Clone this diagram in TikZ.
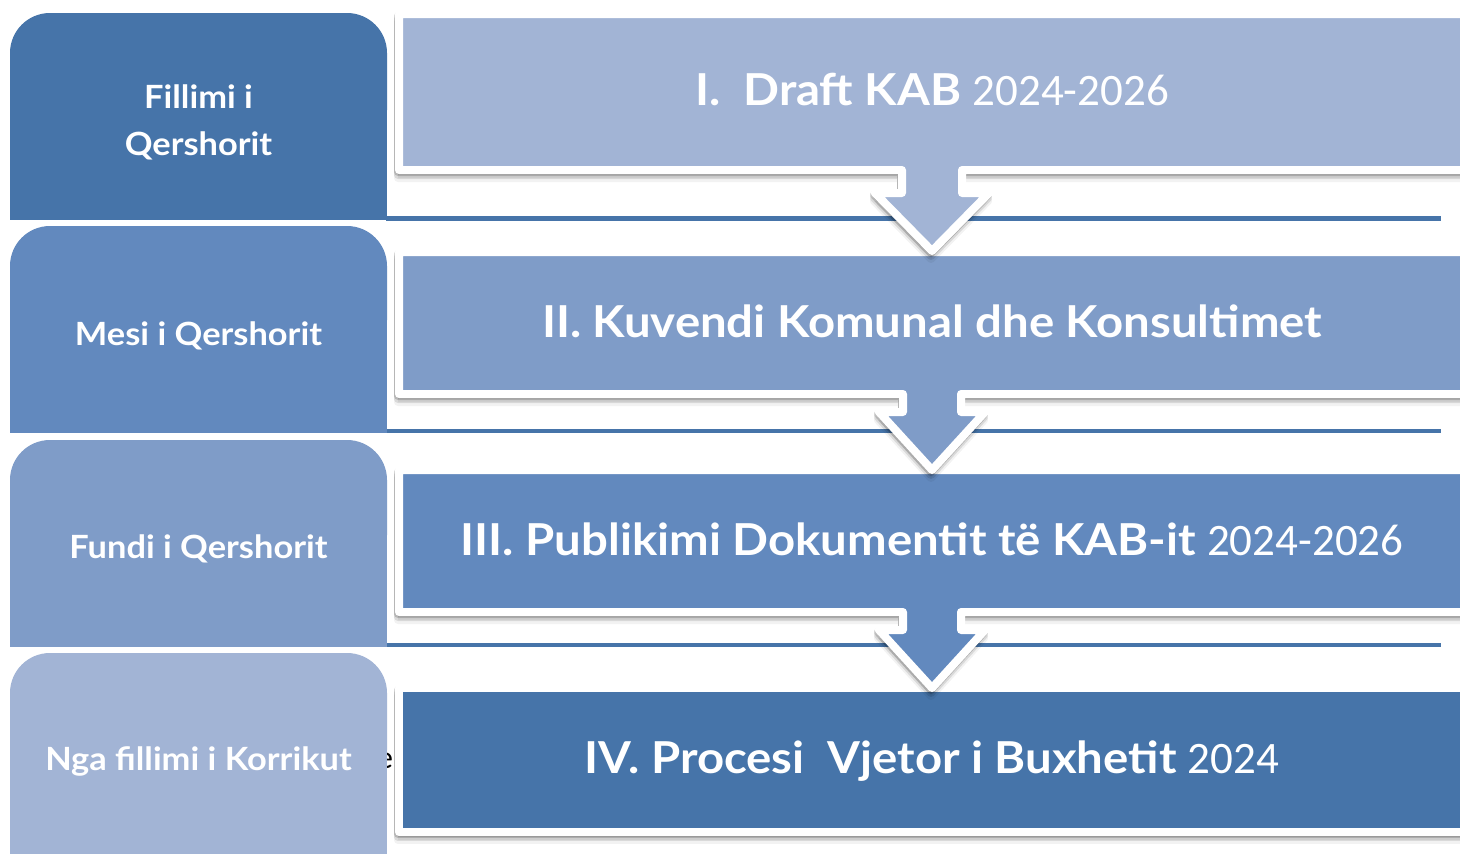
\documentclass[tikz,border=0pt]{standalone}
\usepackage{fontspec}
\setmainfont{Lato}[FakeStretch=1.075]
\newfontfamily\yearfont{Carlito}
\definecolor{cA}{HTML}{4674A9}
\definecolor{cB}{HTML}{6289BE}
\definecolor{cC}{HTML}{7F9CC8}
\definecolor{cD}{HTML}{A2B4D5}
\begin{document}
\begin{tikzpicture}[x=1pt,y=-1pt,
  ltext/.style={text=white,font=\bfseries\fontsize{32}{32}\selectfont,inner sep=0pt,anchor=base},
  rtext/.style={text=white,font=\bfseries\fontsize{44}{44}\selectfont,inner sep=0pt,anchor=base},
  frame/.style={draw=white,line width=8pt,line join=round},
  shadowA/.style={fill=black,draw=black,line width=8pt,line join=round,opacity=0.10},
  sepline/.style={draw=cA,line width=4.5pt}
]
\useasboundingbox (0,0) rectangle (1460,854);
\clip (0,0) rectangle (1460,854);
\fill[white] (0,0) rectangle (1460,854);

% separator lines
\draw[sepline] (386,218.5) -- (1441,218.5);
\draw[sepline] (386,431) -- (1441,431);
\draw[sepline] (386,645) -- (1441,645);

% stray letter behind the last left box
\node[anchor=base west,inner sep=0pt,text=black,font=\yearfont\fontsize{32}{32}\selectfont] (stray) at (377,768) {e};

% left boxes
\fill[cA,rounded corners=40pt] (10,150) -- (10,13) -- (387,13) -- (387,150) -- cycle;
\fill[cA] (10,100) rectangle (387,220);
\fill[cB,rounded corners=40pt] (10,360) -- (10,226) -- (387,226) -- (387,360) -- cycle;
\fill[cB] (10,320) rectangle (387,433);
\fill[cC,rounded corners=40pt] (10,575) -- (10,440) -- (387,440) -- (387,575) -- cycle;
\fill[cC] (10,530) rectangle (387,647);
\fill[cD,rounded corners=40pt] (10,790) -- (10,653) -- (387,653) -- (387,790) -- cycle;
\fill[cD] (10,740) rectangle (387,860);

\node[ltext] (l1a) at (198.5,108) {Fillimi i};
\node[ltext] (l1b) at (198.5,155) {Qershorit};
\node[ltext] (l2) at (198.5,345) {Mesi i Qershorit};
\node[ltext] (l3) at (198.5,558) {Fundi i Qershorit};
\node[ltext] (l4) at (198.5,770) {Nga fillimi i Korrikut};

% right box IV
\foreach \dy/\op in {2/0.16,5/0.10,8/0.05}{
  \path[shadowA,opacity=\op,yshift=-\dy pt,xshift=-1pt] (399,688) -- (1480,688) -- (1480,832) -- (399,832) -- cycle;}
\path[frame,fill=cA] (399,688) -- (1480,688) -- (1480,832) -- (399,832) -- cycle;

% right box III with arrow
\foreach \dy/\op in {2/0.16,5/0.10,8/0.05}{
  \path[shadowA,opacity=\op,yshift=-\dy pt,xshift=-1pt] (399,470) -- (1480,470) -- (1480,612) -- (961,612) -- (961,630) -- (985,630) -- (932,688) -- (879,630) -- (903,630) -- (903,612) -- (399,612) -- cycle;}
\path[frame,fill=cB] (399,470) -- (1480,470) -- (1480,612) -- (961,612) -- (961,630) -- (985,630) -- (932,688) -- (879,630) -- (903,630) -- (903,612) -- (399,612) -- cycle;

% right box II with arrow
\foreach \dy/\op in {2/0.16,5/0.10,8/0.05}{
  \path[shadowA,opacity=\op,yshift=-\dy pt,xshift=-1pt] (399,252) -- (1480,252) -- (1480,394) -- (961,394) -- (961,412) -- (985,412) -- (932,470) -- (879,412) -- (903,412) -- (903,394) -- (399,394) -- cycle;}
\path[frame,fill=cC] (399,252) -- (1480,252) -- (1480,394) -- (961,394) -- (961,412) -- (985,412) -- (932,470) -- (879,412) -- (903,412) -- (903,394) -- (399,394) -- cycle;

% right box I with arrow
\foreach \dy/\op in {2/0.16,5/0.10,8/0.05}{
  \path[shadowA,opacity=\op,yshift=-\dy pt,xshift=-1pt] (399,14) -- (1480,14) -- (1480,170) -- (962,170) -- (962,193) -- (989,193) -- (932,251) -- (875,193) -- (902,193) -- (902,170) -- (399,170) -- cycle;}
\path[frame,fill=cD] (399,14) -- (1480,14) -- (1480,170) -- (962,170) -- (962,193) -- (989,193) -- (932,251) -- (875,193) -- (902,193) -- (902,170) -- (399,170) -- cycle;

\node[rtext] (r1) at (932,105) {I.\ \ Draft KAB {\yearfont\mdseries\fontsize{45}{45}\selectfont 2024-2026}};
\node[rtext] (r2) at (932,337) {II. Kuvendi Komunal dhe Konsultimet};
\node[rtext] (r3) at (932,555) {III. Publikimi Dokumentit të KAB-it {\yearfont\mdseries\fontsize{45}{45}\selectfont 2024-2026}};
\node[rtext] (r4) at (932,773) {IV. Procesi\ \ Vjetor i Buxhetit {\yearfont\mdseries\fontsize{45}{45}\selectfont 2024}};
\end{tikzpicture}
\end{document}
